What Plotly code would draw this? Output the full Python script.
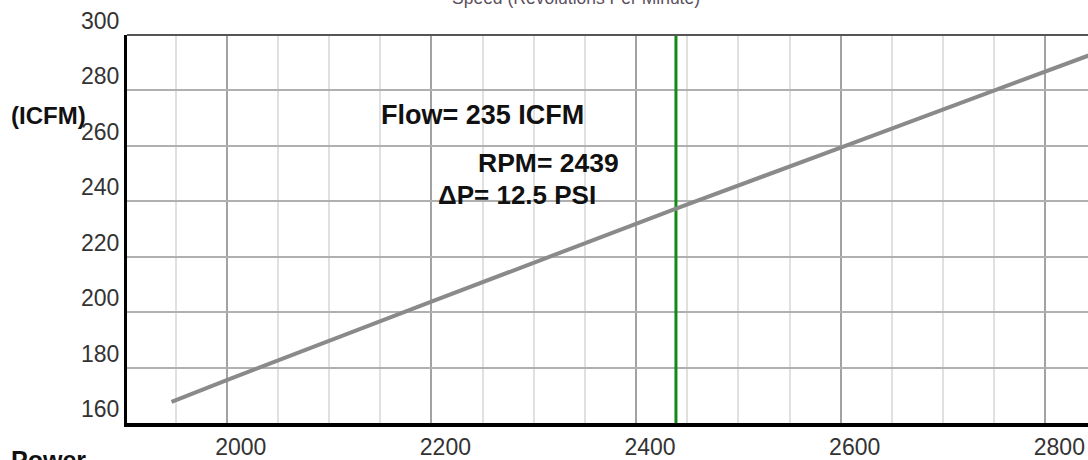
import plotly.graph_objects as go

# ---- data ----
rpm_pts = [1946, 2000, 2200, 2441, 2600, 2750, 2900]
flow_pts = [167.6, 175.5, 203.8, 237.6, 259.4, 280.0, 300.5]
marker_rpm = 2439
flow_value = 235
dp_value = 12.5
x_ticks = [2000, 2200, 2400, 2600, 2800]
y_ticks = [160, 180, 200, 220, 240, 260, 280, 300]
x_title = "Speed (Revolutions Per Minute)"
y_title = "(ICFM)"
bottom_label = "Power"

# ---- layout geometry ----
W, H = 1088, 460
L, R, T, B = 127, 0, 35, 29
PW, PH = W - L - R, H - T - B


def px2x(px):
    return (px - L) / PW


def px2y(py):
    return (H - B - py) / PH


FONT = "Arial, Liberation Sans, sans-serif"

fig = go.Figure()
fig.add_trace(go.Scatter(
    x=[marker_rpm, marker_rpm], y=[y_ticks[0], y_ticks[-1]],
    mode="lines", line=dict(color="#138a13", width=3),
    hoverinfo="skip", showlegend=False))
fig.add_trace(go.Scatter(
    x=rpm_pts, y=flow_pts, mode="lines",
    line=dict(color="#8a8a8a", width=4),
    showlegend=False))

fig.update_layout(
    width=W, height=H,
    margin=dict(l=L, r=R, t=T, b=B, pad=0),
    paper_bgcolor="white", plot_bgcolor="white",
    showlegend=False,
    font=dict(family=FONT, color="#333"),
    xaxis=dict(
        range=[1902.5, 2841.7], tickmode="array", tickvals=x_ticks,
        ticks="", showline=True, linecolor="black", linewidth=4,
        showgrid=True, gridcolor="#a2a2a2", gridwidth=2,
        minor=dict(dtick=50, tick0=1900, showgrid=True,
                   gridcolor="#e0e0e0", gridwidth=2),
        zeroline=False, ticklabelshift=14,
        tickfont=dict(size=23, color="#333", family=FONT)),
    yaxis=dict(
        range=[160, 300], tickmode="array", tickvals=y_ticks,
        ticks="", showline=True, linecolor="black", linewidth=3,
        showgrid=True, gridcolor="#b0b0b0", gridwidth=2,
        zeroline=False, ticklabelshift=-14,
        tickfont=dict(size=23, color="#333", family=FONT)),
    shapes=[dict(type="line", xref="paper", yref="paper", x0=0, x1=1,
                 y0=1, y1=1, line=dict(color="#555", width=2))],
)

ann = [
    dict(text=x_title, x=px2x(576), y=px2y(9), xanchor="center",
         yanchor="bottom", font=dict(size=17.5, color="#5a5060")),
    dict(text=f"<b>{y_title}</b>", x=px2x(9), y=px2y(117), xanchor="left",
         yanchor="middle", font=dict(size=24, color="#111")),
    dict(text=f"<b>{bottom_label}</b>", x=px2x(9), y=px2y(452), xanchor="left",
         yanchor="top", font=dict(size=25, color="#111")),
    dict(text=f"<b>Flow= {flow_value} ICFM</b>", x=px2x(379), y=px2y(117),
         xanchor="left", yanchor="middle", font=dict(size=27, color="#111")),
    dict(text=f"<b>RPM= {marker_rpm}</b>", x=px2x(476), y=px2y(166),
         xanchor="left", yanchor="middle", font=dict(size=26.5, color="#111")),
    dict(text=f"<b>ΔP= {dp_value} PSI</b>", x=px2x(436), y=px2y(198),
         xanchor="left", yanchor="middle", font=dict(size=26, color="#111")),
]
for a in ann:
    fig.add_annotation(xref="paper", yref="paper", showarrow=False,
                       align="left", **a)

fig.write_html("out.html")
